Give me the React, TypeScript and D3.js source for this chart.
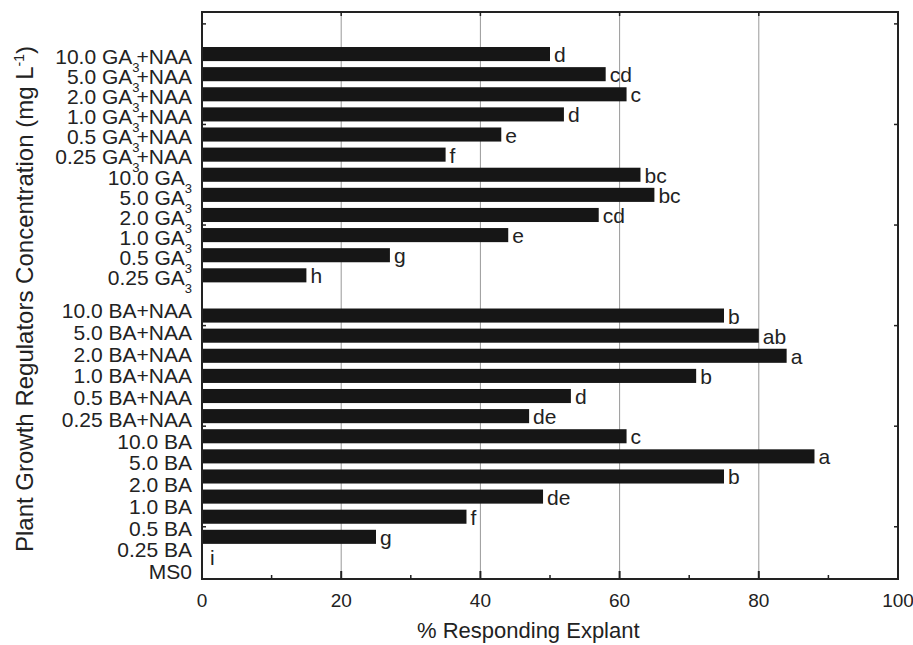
import { useEffect, useRef } from 'react';
import { select, scaleLinear, scaleBand, scalePoint, range } from 'd3';

// categories, top to bottom. "" is the empty slot between the two groups
const gaNames = ['10.0 GA3+NAA', '5.0 GA3+NAA', '2.0 GA3+NAA', '1.0 GA3+NAA', '0.5 GA3+NAA', '0.25 GA3+NAA',
    '10.0 GA3', '5.0 GA3', '2.0 GA3', '1.0 GA3', '0.5 GA3', '0.25 GA3'];
const baNames = ['10.0 BA+NAA', '5.0 BA+NAA', '2.0 BA+NAA', '1.0 BA+NAA', '0.5 BA+NAA', '0.25 BA+NAA',
    '10.0 BA', '5.0 BA', '2.0 BA', '1.0 BA', '0.5 BA', '0.25 BA', 'MS0'];

// % responding explant
const gaValues = [50, 58, 61, 52, 43, 35, 63, 65, 57, 44, 27, 15];
const baValues = [75, 80, 84, 71, 53, 47, 61, 88, 75, 49, 38, 25, 0];

// mean separation letters
const gaLetters = ['d', 'cd', 'c', 'd', 'e', 'f', 'bc', 'bc', 'cd', 'e', 'g', 'h'];
const baLetters = ['b', 'ab', 'a', 'b', 'd', 'de', 'c', 'a', 'b', 'de', 'f', 'g', 'i'];

const xTicks = [0, 20, 40, 60, 80, 100];

function App() {
    const svgRef = useRef(null);
    const width = 913, height = 645;
    const margin = { top: 12, right: 15, bottom: 66, left: 202 };

    useEffect(() => {
        const svg = select(svgRef.current);
        svg.selectAll('*').remove();
        const font = 'Liberation Sans, Arial, sans-serif';

        const slots = [...gaNames, '', ...baNames];
        const data = [
            ...gaNames.map((n, i) => ({ name: n, value: gaValues[i], letter: gaLetters[i] })),
            ...baNames.map((n, i) => ({ name: n, value: baValues[i], letter: baLetters[i] })),
        ];

        const x = scaleLinear().domain([0, 100]).range([margin.left, width - margin.right]);
        const y = scaleBand().domain(slots).range([44, 567]).paddingInner(0.3).paddingOuter(0.15);

        // label rows drift a bit from the bars in the original figure
        const yGaLabel = scalePoint().domain(gaNames).range([57, 278]);
        const yBaLabel = scalePoint().domain(baNames).range([311, 572]);

        const x0 = x(0), x1 = x(100), yTop = margin.top, yBot = height - margin.bottom;

        // grid lines
        svg.append('g').selectAll('line').data([20, 40, 60, 80]).enter().append('line')
            .attr('x1', d => x(d)).attr('x2', d => x(d))
            .attr('y1', yTop).attr('y2', yBot)
            .attr('stroke', '#999').attr('stroke-width', 1);

        // bars
        svg.append('g').selectAll('rect').data(data.filter(d => d.value > 0)).enter().append('rect')
            .attr('x', x0)
            .attr('y', d => y(d.name))
            .attr('width', d => x(d.value) - x0)
            .attr('height', y.bandwidth())
            .attr('fill', '#161616');

        // letters
        svg.append('g').selectAll('text').data(data).enter().append('text')
            .attr('x', d => x(d.value) + (d.value > 0 ? 4 : 8))
            .attr('y', d => y(d.name) + y.bandwidth() / 2 + 8)
            .attr('font-family', font).attr('font-size', 21).attr('fill', '#222')
            .text(d => d.letter);

        // frame
        svg.append('rect')
            .attr('x', x0).attr('y', yTop).attr('width', x1 - x0).attr('height', yBot - yTop)
            .attr('fill', 'none').attr('stroke', '#222').attr('stroke-width', 2);

        // major + minor ticks, bottom and top
        const minor = range(10, 100, 20);
        const tk = svg.append('g').attr('stroke', '#222');
        tk.selectAll('.mb').data(xTicks).enter().append('line')
            .attr('x1', d => x(d)).attr('x2', d => x(d)).attr('y1', yBot).attr('y2', yBot - 8).attr('stroke-width', 2);
        tk.selectAll('.nb').data(minor).enter().append('line')
            .attr('x1', d => x(d)).attr('x2', d => x(d)).attr('y1', yBot).attr('y2', yBot - 4).attr('stroke-width', 1.5);
        tk.selectAll('.mt').data(xTicks).enter().append('line')
            .attr('x1', d => x(d)).attr('x2', d => x(d)).attr('y1', yTop).attr('y2', yTop + 4).attr('stroke-width', 1.5);

        // small ticks on left and right edges
        const sideTicks = range(2, 28, 5).map(k => 567 - k * y.step());
        tk.selectAll('.sl').data(sideTicks).enter().append('line')
            .attr('x1', x0).attr('x2', x0 + 4).attr('y1', d => d).attr('y2', d => d).attr('stroke-width', 1.5);
        tk.selectAll('.sr').data(sideTicks).enter().append('line')
            .attr('x1', x1).attr('x2', x1 - 4).attr('y1', d => d).attr('y2', d => d).attr('stroke-width', 1.5);

        // x tick labels
        svg.append('g').selectAll('text').data(xTicks).enter().append('text')
            .attr('x', d => x(d)).attr('y', yBot + 28)
            .attr('text-anchor', 'middle')
            .attr('font-family', font).attr('font-size', 19).attr('fill', '#222')
            .text(d => d);

        // x title
        svg.append('text')
            .attr('x', 417).attr('y', yBot + 59)
            .attr('font-family', font).attr('font-size', 22).attr('fill', '#222')
            .text('% Responding Explant');

        // category labels with subscript 3
        const catLabel = (g, names, sc) => {
            const t = g.selectAll('text').data(names).enter().append('text')
                .attr('x', 192).attr('y', d => sc(d) + 7)
                .attr('text-anchor', 'end')
                .attr('font-family', font).attr('font-size', 21).attr('fill', '#222');
            t.each(function (d) {
                const el = select(this);
                const parts = d.split('GA3');
                if (parts.length === 1) { el.text(d); return; }
                el.append('tspan').text(parts[0] + 'GA');
                el.append('tspan').attr('dy', 8).attr('font-size', 13).text('3');
                if (parts[1]) el.append('tspan').attr('dy', -8).attr('dx', -3).text(parts[1]);
            });
        };
        catLabel(svg.append('g'), gaNames, yGaLabel);
        catLabel(svg.append('g'), baNames, yBaLabel);

        // y title
        const yt = svg.append('text')
            .attr('transform', `translate(33, 299) rotate(-90)`)
            .attr('text-anchor', 'middle')
            .attr('font-family', font).attr('font-size', 24).attr('fill', '#222');
        yt.append('tspan').text('Plant Growth Regulators Concentration (mg L');
        yt.append('tspan').attr('dy', -9).attr('font-size', 14).text('-1');
        yt.append('tspan').attr('dy', 9).text(')');
    }, []);

    return (
        <svg ref={svgRef} width={width} height={height}
            style={{ position: 'absolute', left: 0, top: 0, background: '#fff' }} />
    );
}

export default App;
